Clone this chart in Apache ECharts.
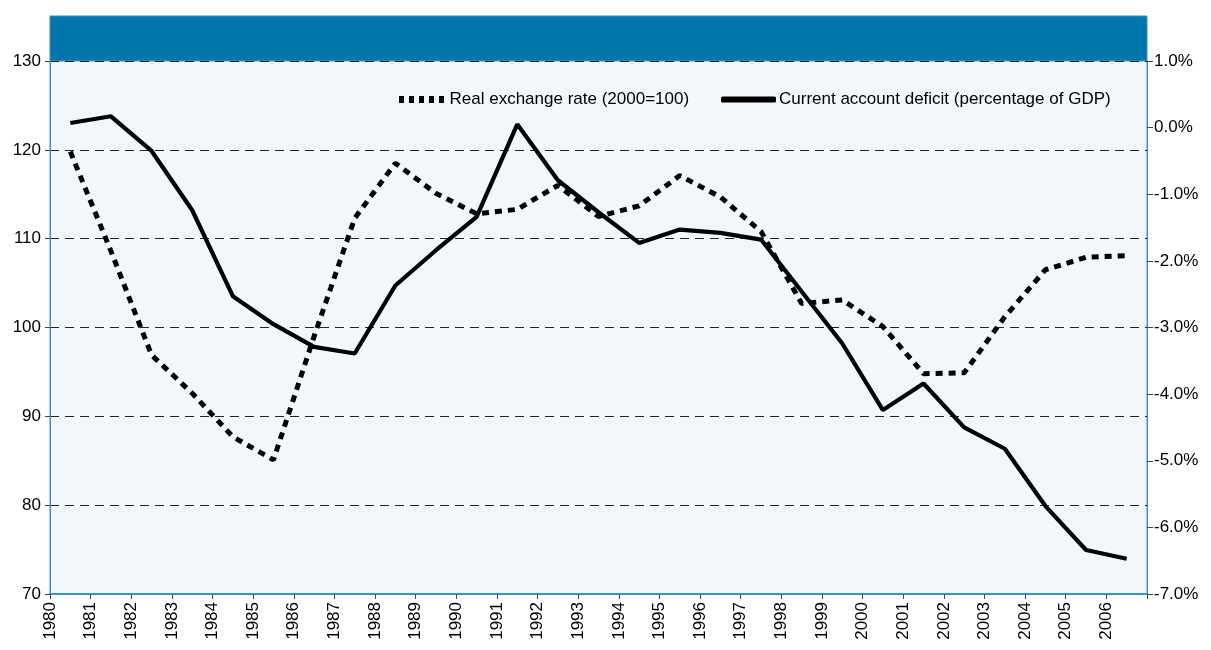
<!DOCTYPE html>
<html>
<head>
<meta charset="utf-8">
<script src="https://cdn.jsdelivr.net/npm/echarts@6/dist/echarts.min.js"></script>
<style>
html,body{margin:0;padding:0;background:#fff;}
#chart{width:1211px;height:650px;}
</style>
</head>
<body>
<div id="chart"></div>
<script>
// ---- data ----
const years = [1980,1981,1982,1983,1984,1985,1986,1987,1988,1989,1990,1991,1992,1993,1994,1995,1996,1997,1998,1999,2000,2001,2002,2003,2004,2005,2006];
const realExchangeRate = [119.8,108.6,96.9,92.6,87.7,85.1,99.0,112.3,118.5,115.1,112.8,113.3,116.0,112.5,113.7,117.1,114.7,110.8,102.7,103.1,100.1,94.8,94.9,101.2,106.5,107.9,108.1];
const currentAccount = [0.07,0.17,-0.35,-1.24,-2.53,-2.95,-3.29,-3.39,-2.37,-1.84,-1.34,0.05,-0.79,-1.27,-1.73,-1.53,-1.58,-1.68,-2.46,-3.24,-4.24,-3.84,-4.50,-4.82,-5.68,-6.34,-6.47];
const seriesNames = ['Real exchange rate (2000=100)','Current account deficit (percentage of GDP)'];

const FONT = 'Liberation Sans, Arial, sans-serif';
const FS = 17;
const chart = echarts.init(document.getElementById('chart'), null, {renderer:'canvas'});
const G = {left:50, right:64, top:61, bottom:56};
const squaresIcon = 'path://M0,0h5v7h-5z M10,0h5v7h-5z M20,0h5v7h-5z M30,0h5v7h-5z M40,0h5v7h-5z';

chart.setOption({
  backgroundColor:'#ffffff',
  animation:false,
  textStyle:{fontFamily:FONT},
  graphic:[{
    type:'rect',
    shape:{x:G.left, y:16, width:1211-G.left-G.right, height:G.top-16},
    style:{fill:'#0076ad', stroke:'#3a8fc0', lineWidth:1},
    z:-1
  }],
  grid:{left:G.left, right:G.right, top:G.top, bottom:G.bottom, show:true,
        backgroundColor:'#f2f7fc', borderColor:'#3b94c6', borderWidth:1},
  legend:[{
    left:394, top:86, itemWidth:50, itemHeight:7, itemGap:0,
    textStyle:{fontFamily:FONT, fontSize:FS, color:'#000', padding:[0,0,0,-2]},
    data:[{name:seriesNames[0], icon:squaresIcon, itemStyle:{color:'#000'}}]
  },{
    left:716, top:86, itemWidth:55, itemHeight:6, itemGap:0,
    textStyle:{fontFamily:FONT, fontSize:FS, color:'#000', padding:[0,0,0,-2]},
    data:[{name:seriesNames[1], icon:'roundRect', itemStyle:{color:'#000'}}]
  }],
  xAxis:{
    type:'value', min:1980, max:2007, interval:1,
    axisLine:{show:true, onZero:false, lineStyle:{color:'#3b94c6', width:2}},
    axisTick:{show:true, length:5, lineStyle:{color:'#444'}},
    splitLine:{show:false},
    axisLabel:{rotate:90, fontSize:FS, color:'#000', margin:8, fontFamily:FONT,
      formatter:v => (v < 2007 ? String(v) : '')}
  },
  yAxis:[{
    type:'value', min:70, max:130, interval:10, position:'left',
    axisLine:{show:true, lineStyle:{color:'#3b94c6', width:1}},
    axisTick:{show:true, length:5, lineStyle:{color:'#444'}},
    axisLabel:{fontSize:FS, color:'#000', margin:9, fontFamily:FONT},
    splitLine:{show:true, lineStyle:{color:'#222', type:[9,6], width:1}}
  },{
    type:'value', min:-7, max:1, interval:1, position:'right',
    axisLine:{show:true, lineStyle:{color:'#3b94c6', width:1}},
    axisTick:{show:true, inside:false, length:6, lineStyle:{color:'#444'}},
    axisLabel:{fontSize:FS, color:'#000', margin:7, fontFamily:FONT,
      formatter:v => v.toFixed(1) + '%'},
    splitLine:{show:false}
  }],
  series:[{
    name:seriesNames[0], type:'line', yAxisIndex:0, symbol:'none',
    lineStyle:{color:'#000', width:5, type:[7,6], cap:'butt'},
    itemStyle:{color:'#000'},
    data:years.map((y,i)=>[y+0.5, realExchangeRate[i]]),
    z:3
  },{
    name:seriesNames[1], type:'line', yAxisIndex:1, symbol:'none',
    lineStyle:{color:'#000', width:4.2},
    itemStyle:{color:'#000'},
    data:years.map((y,i)=>[y+0.5, currentAccount[i]]),
    z:4
  }]
});
</script>
</body>
</html>
